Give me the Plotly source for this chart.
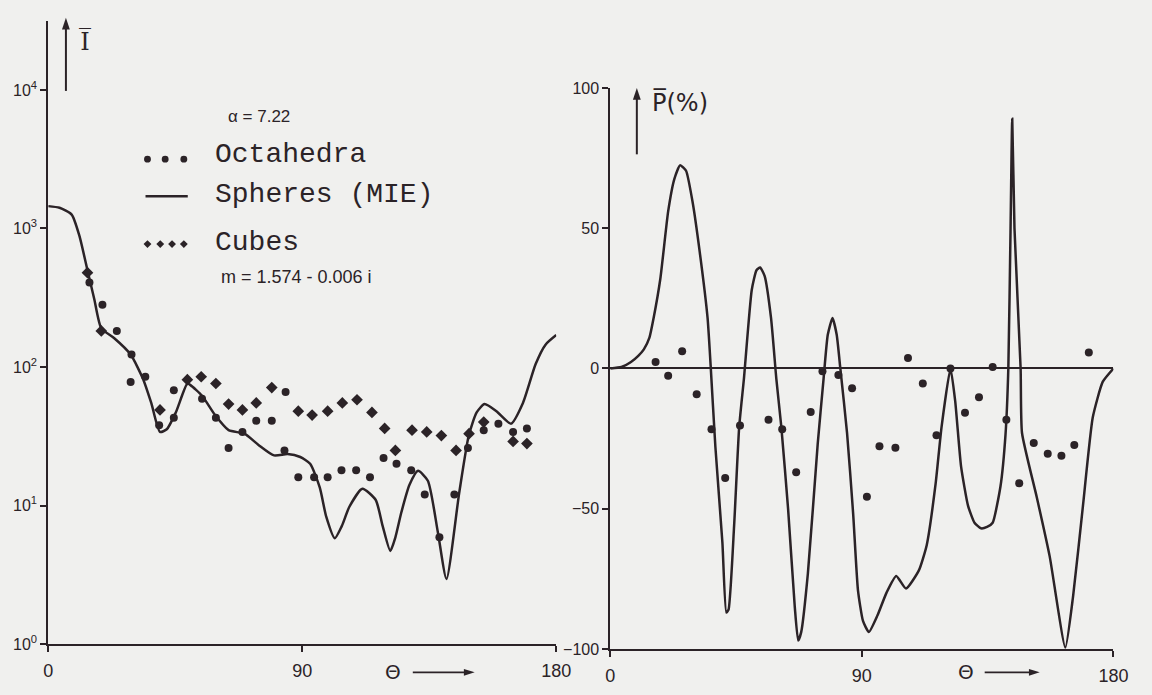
import plotly.graph_objects as go

W, H = 1152, 695
INK = "#2b2327"
BG = "#f0f0ee"

# ---------------- Left panel: mean intensity I vs scattering angle ----------------
sphere_theta = [0, 4, 8.3, 11, 13.9, 16.3, 18.8, 23.3, 29.2, 33.7, 36.5, 39.6, 42, 45.2, 49.3,
                50.4, 54.5, 59.1, 63.9, 69.5, 74.4, 80, 84.8, 89.3, 92.8, 96.2, 98.5, 101.5, 104,
                106.7, 111.3, 116, 118.5, 121.2, 123, 125.1, 128, 131, 134.5, 138, 141.1, 145.6,
                149, 151.8, 154.6, 158.8, 164, 168.2, 172.7, 176.2, 180]
sphere_I = [1450, 1410, 1260, 890, 500, 310, 190, 162, 123, 81, 55, 34, 35.5, 47, 76,
            74, 62, 45, 35, 33, 27.5, 23, 23.5, 22.4, 20, 13.5, 8.3, 5.8, 7.1,
            9.8, 13.2, 11, 7.1, 4.7, 5.9, 8.9, 14.1, 17.8, 15.1, 6.5, 2.95, 12.3,
            32, 47, 54, 48, 39, 55, 105, 145, 170]

octa_theta = [14.6, 19.2, 24.3, 29.5, 29.2, 34.4, 39.3, 44.5, 44.5, 54.5, 59.4, 63.9, 68.8,
              73.7, 79.2, 84.1, 83.7, 88.6, 94.2, 99.0, 103.9, 109.1, 114.0, 118.8, 123.4,
              128.6, 133.4, 138.6, 143.9, 148.7, 154.3, 159.5, 164.7, 169.6]
octa_I = [407, 282, 182, 123, 78, 85, 38, 68, 43, 59, 43, 26, 34,
          41, 41, 66, 25, 16, 16, 16, 18, 18, 16, 22, 20,
          18, 12, 5.9, 12, 26, 35, 39, 34, 36]

cube_theta = [13.9, 18.8, 39.6, 49.3, 54.2, 59.4, 63.9, 68.8, 73.7, 79.2, 88.6, 93.5, 99.0,
              104.2, 109.4, 114.7, 119.2, 123.0, 128.9, 134.1, 139.3, 144.5, 149.1, 154.3,
              164.7, 169.6]
cube_I = [480, 182, 49, 81, 85, 76, 54, 49, 55, 71, 48, 45, 48,
          55, 58, 47, 36, 25, 35, 34, 32, 25, 33, 40,
          29, 28]

# ---------------- Right panel: polarisation P (%) vs scattering angle ----------------
pol_theta = [0, 4, 7.4, 10, 12, 14, 15.5, 17.9, 20.7, 22.9, 25, 27.1, 29.5, 32, 34.8, 35.9,
             37.6, 40.1, 41.5, 42.3, 44.3, 46.1, 47.8, 50.6, 52.3, 53.6, 55.2, 57.5, 59.4,
             61.2, 63.6, 66, 67.2, 68.3, 70.7, 74.2, 76.3, 77.8, 79.5, 81, 82.3, 84.7, 86.9,
             88.6, 90.4, 92.5, 95.6, 98.8, 102.3, 105.8, 110.4, 113.2, 116.4, 118.5, 121.7,
             123.4, 125.5, 128, 130.3, 132.6, 134.8, 136.8, 139.6, 141.4, 142.4, 143.2, 143.8,
             144.6, 146.8, 147.3, 152.6, 157.2, 162.8, 165.6, 169.1, 172.6, 176.2, 180]
pol_P = [0, 0.5, 2.3, 4.5, 6.8, 11, 18, 32, 56, 67.5, 72.5, 70.5, 59, 41.5, 18, 1,
         -28, -62, -87, -86, -56, -21, -3.7, 28, 35, 36, 33, 18, -3.7,
         -21, -50, -85, -97, -94, -73, -27, -3.7, 12, 18, 12, 0, -23, -52,
         -79, -90, -94, -88, -80, -74, -78.5, -72, -63, -41, -21, 0,
         -11.7, -35, -49, -55, -57, -56.5, -55, -42, -23.5, 0, 50, 89,
         50, 0, -23, -46, -67, -99.5, -81, -49, -17.5, -4.7, 0]

opol_theta = [16.2, 20.7, 25.7, 30.9, 36.2, 41.1, 46.4, 56.6, 61.5, 66.5, 71.7, 75.9, 81.6,
              86.5, 91.8, 96.3, 102, 106.5, 111.8, 116.7, 121.7, 126.9, 131.9, 136.8, 141.7,
              146.3, 151.5, 156.5, 161.4, 166, 171.2]
opol_P = [2.3, -2.6, 6.1, -9.2, -21.7, -39.1, -20.3, -18.3, -21.7, -37, -15.5, -1, -2.3,
          -7.1, -45.7, -27.7, -28.3, 3.7, -5.4, -23.8, 0, -15.8, -10.3, 0.5, -18.3,
          -40.9, -26.6, -30.4, -31.1, -27.3, 5.7]

x_ticks = [0, 90, 180]
logI_ticks = [1, 10, 100, 1000, 10000]
logI_text = ["10<sup>0</sup>", "10<sup>1</sup>", "10<sup>2</sup>", "10<sup>3</sup>", "10<sup>4</sup>"]
P_ticks = [-100, -50, 0, 50, 100]


def px(x):
    return x / W


def py(y):
    return 1 - y / H


fig = go.Figure()

fig.add_trace(go.Scatter(x=sphere_theta, y=sphere_I, mode="lines", name="Spheres (MIE)",
                         line=dict(color=INK, width=2.5, shape="spline", smoothing=0.6),
                         xaxis="x", yaxis="y", showlegend=False))
fig.add_trace(go.Scatter(x=octa_theta, y=octa_I, mode="markers", name="Octahedra",
                         marker=dict(symbol="circle", size=8, color=INK),
                         xaxis="x", yaxis="y", showlegend=False))
fig.add_trace(go.Scatter(x=cube_theta, y=cube_I, mode="markers", name="Cubes",
                         marker=dict(symbol="diamond", size=9, color=INK),
                         xaxis="x", yaxis="y", showlegend=False))

fig.add_trace(go.Scatter(x=pol_theta, y=pol_P, mode="lines", name="Spheres (MIE)",
                         line=dict(color=INK, width=2.5, shape="spline", smoothing=0.5),
                         xaxis="x2", yaxis="y2", showlegend=False))
fig.add_trace(go.Scatter(x=opol_theta, y=opol_P, mode="markers", name="Octahedra",
                         marker=dict(symbol="circle", size=8, color=INK),
                         xaxis="x2", yaxis="y2", showlegend=False))

axis_common = dict(showline=True, linecolor=INK, linewidth=2, ticks="outside", ticklen=6,
                   tickwidth=2, tickcolor=INK, showgrid=False)
yfont = dict(family="Liberation Sans", size=16, color=INK)
xfont = dict(family="Liberation Sans", size=18, color=INK)

fig.update_layout(
    width=W, height=H, autosize=False,
    margin=dict(l=0, r=0, t=0, b=0),
    paper_bgcolor=BG, plot_bgcolor=BG,
    showlegend=False,
    xaxis=dict(domain=[px(44), px(561)], range=[0, 180], anchor="y", tickvals=x_ticks,
               zeroline=False, tickfont=xfont, ticklabelstandoff=3, **axis_common),
    yaxis=dict(domain=[py(652), py(13)], type="log", range=[0, 4.5], anchor="x",
               tickvals=logI_ticks, ticktext=logI_text, zeroline=False, tickfont=yfont,
               **axis_common),
    xaxis2=dict(domain=[px(616), px(1128)], range=[0, 180], anchor="y2", tickvals=x_ticks,
                zeroline=False, tickfont=xfont, ticklabelstandoff=3, **axis_common),
    yaxis2=dict(domain=[py(657), py(82)], range=[-100, 100], anchor="x2", tickvals=P_ticks,
                zeroline=True, zerolinecolor=INK, zerolinewidth=2, tickfont=yfont,
                **axis_common),
)

ann = []
ann.append(dict(x=px(73), y=py(35), xref="paper", yref="paper", text="I\u0305",
                showarrow=False, xanchor="left", yanchor="middle",
                font=dict(family="DejaVu Serif", size=24, color=INK)))
ann.append(dict(x=px(656), y=py(97), xref="paper", yref="paper", text="P\u0305(%)",
                showarrow=False, xanchor="left", yanchor="middle",
                font=dict(family="DejaVu Sans", size=24, color=INK)))
for theta_x in [395, 978]:
    ann.append(dict(x=px(theta_x), y=py(681), xref="paper", yref="paper", text="\u0398",
                    showarrow=False, xanchor="center", yanchor="middle",
                    font=dict(family="DejaVu Sans", size=20, color=INK)))
ann.append(dict(x=px(225), y=py(111), xref="paper", yref="paper", text="\u03b1 = 7.22",
                showarrow=False, xanchor="left", yanchor="middle",
                font=dict(family="Liberation Sans", size=17, color=INK)))
for label, yy in [("Octahedra", 150), ("Spheres (MIE)", 191), ("Cubes", 240)]:
    ann.append(dict(x=px(212), y=py(yy), xref="paper", yref="paper", text=label,
                    showarrow=False, xanchor="left", yanchor="middle",
                    font=dict(family="Liberation Mono", size=28, color=INK)))
ann.append(dict(x=px(218), y=py(276), xref="paper", yref="paper", text="m = 1.574 - 0.006 i",
                showarrow=False, xanchor="left", yanchor="middle",
                font=dict(family="Liberation Sans", size=18, color=INK)))
fig.update_layout(annotations=ann)


def tri(points):
    coords = " L ".join("{} {}".format(px(a), py(b)) for a, b in points)
    return "M " + coords + " Z"


shapes = []
# vertical quantity arrows (I and P)
for sx, top, bottom in [(62, 10, 85), (643, 82, 150)]:
    shapes.append(dict(type="line", xref="paper", yref="paper", x0=px(sx), x1=px(sx),
                       y0=py(top + 8), y1=py(bottom), line=dict(color=INK, width=2)))
    shapes.append(dict(type="path", xref="paper", yref="paper",
                       path=tri([(sx, top), (sx - 4, top + 12), (sx + 4, top + 12)]),
                       fillcolor=INK, line=dict(width=0)))
# theta arrows
for x0, x1 in [(415, 478), (997, 1053)]:
    yy = 681
    shapes.append(dict(type="line", xref="paper", yref="paper", x0=px(x0), x1=px(x1 - 8),
                       y0=py(yy), y1=py(yy), line=dict(color=INK, width=1.8)))
    shapes.append(dict(type="path", xref="paper", yref="paper",
                       path=tri([(x1, yy), (x1 - 11, yy - 3.5), (x1 - 11, yy + 3.5)]),
                       fillcolor=INK, line=dict(width=0)))
# legend samples
for cx in [145, 163, 182]:
    shapes.append(dict(type="circle", xref="paper", yref="paper",
                       x0=px(cx - 3.5), x1=px(cx + 3.5), y0=py(155 + 3.5), y1=py(155 - 3.5),
                       fillcolor=INK, line=dict(width=0)))
shapes.append(dict(type="line", xref="paper", yref="paper", x0=px(143), x1=px(186),
                   y0=py(193), y1=py(193), line=dict(color=INK, width=2.5)))
for cx in [145, 158, 170, 182]:
    cy = 242
    shapes.append(dict(type="path", xref="paper", yref="paper",
                       path=tri([(cx - 4, cy), (cx, cy - 4), (cx + 4, cy), (cx, cy + 4)]),
                       fillcolor=INK, line=dict(width=0)))
fig.update_layout(shapes=shapes)

fig.write_html("out.html", config={"displayModeBar": False},
               post_script="document.body.style.margin='0';")
